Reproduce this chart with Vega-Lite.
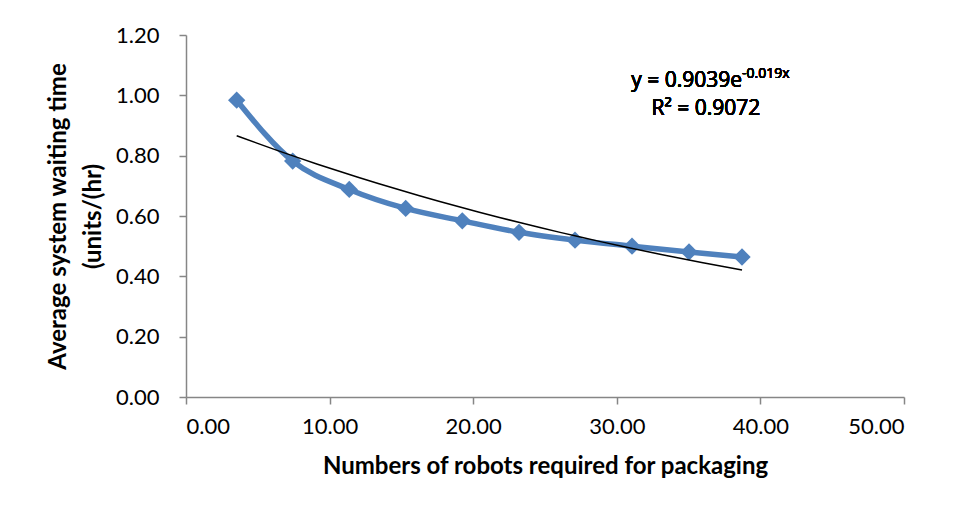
{
  "$schema": "https://vega.github.io/schema/vega-lite/v6.json",
  "width": 718,
  "height": 362,
  "autosize": {"type": "none"},
  "padding": {"left": 186, "top": 35, "right": 53, "bottom": 119},
  "background": "white",
  "config": {
    "font": "Lato",
    "view": {"stroke": null},
    "axis": {
      "grid": false,
      "domainColor": "#868686",
      "domainWidth": 1.5,
      "tickColor": "#868686",
      "tickWidth": 1.5,
      "tickSize": 7,
      "labelFont": "Lato",
      "labelFontSize": 22,
      "labelColor": "#000000",
      "titleFont": "Lato",
      "titleFontSize": 24,
      "titleFontWeight": "bold",
      "titleColor": "#000000"
    }
  },
  "data": {
    "values": [
      {"robots": 3.53, "wait": 0.984},
      {"robots": 7.43, "wait": 0.782},
      {"robots": 11.37, "wait": 0.688},
      {"robots": 15.30, "wait": 0.625},
      {"robots": 19.24, "wait": 0.584},
      {"robots": 23.19, "wait": 0.546},
      {"robots": 27.09, "wait": 0.520},
      {"robots": 31.06, "wait": 0.500},
      {"robots": 35.03, "wait": 0.481},
      {"robots": 38.72, "wait": 0.464}
    ]
  },
  "layer": [
    {
      "mark": {"type": "line", "color": "#4F81BD", "strokeWidth": 5.5, "interpolate": "monotone"},
      "encoding": {
        "x": {
          "field": "robots", "type": "quantitative",
          "scale": {"domain": [0, 50], "nice": false},
          "axis": {"values": [0, 10, 20, 30, 40, 50], "format": ".2f", "labelPadding": 12, "title": "Numbers of robots required for packaging", "titlePadding": 17}
        },
        "y": {
          "field": "wait", "type": "quantitative",
          "scale": {"domain": [0, 1.2], "nice": false, "zero": true},
          "axis": {"values": [0, 0.2, 0.4, 0.6, 0.8, 1.0, 1.2], "format": ".2f", "labelPadding": 20, "title": ["Average system waiting time", "(units/(hr)"], "titlePadding": 10, "titleLineHeight": 35}
        }
      }
    },
    {
      "mark": {"type": "point", "shape": "diamond", "filled": true, "opacity": 1, "color": "#4F81BD", "size": 300},
      "encoding": {
        "x": {"field": "robots", "type": "quantitative"},
        "y": {"field": "wait", "type": "quantitative"}
      }
    },
    {
      "transform": [{"regression": "wait", "on": "robots", "method": "exp"}],
      "mark": {"type": "line", "color": "#000000", "strokeWidth": 1.5},
      "encoding": {
        "x": {"field": "robots", "type": "quantitative"},
        "y": {"field": "wait", "type": "quantitative"}
      }
    },
    {
      "mark": {"type": "text", "text": "y = 0.9039e", "align": "right", "baseline": "alphabetic", "fontSize": 21, "fontWeight": 400, "font": "Open Sans", "color": "#000000"},
      "encoding": {"x": {"datum": 38.72}, "y": {"datum": 1.0275}}
    },
    {
      "mark": {"type": "text", "text": "-0.019x", "align": "left", "baseline": "alphabetic", "fontSize": 14, "fontWeight": 400, "font": "Open Sans", "color": "#000000"},
      "encoding": {"x": {"datum": 38.72}, "y": {"datum": 1.057}}
    },
    {
      "mark": {"type": "text", "text": "R² = 0.9072", "align": "center", "baseline": "alphabetic", "fontSize": 21, "fontWeight": 400, "font": "Open Sans", "color": "#000000"},
      "encoding": {"x": {"datum": 36.21}, "y": {"datum": 0.9347}}
    }
  ]
}
